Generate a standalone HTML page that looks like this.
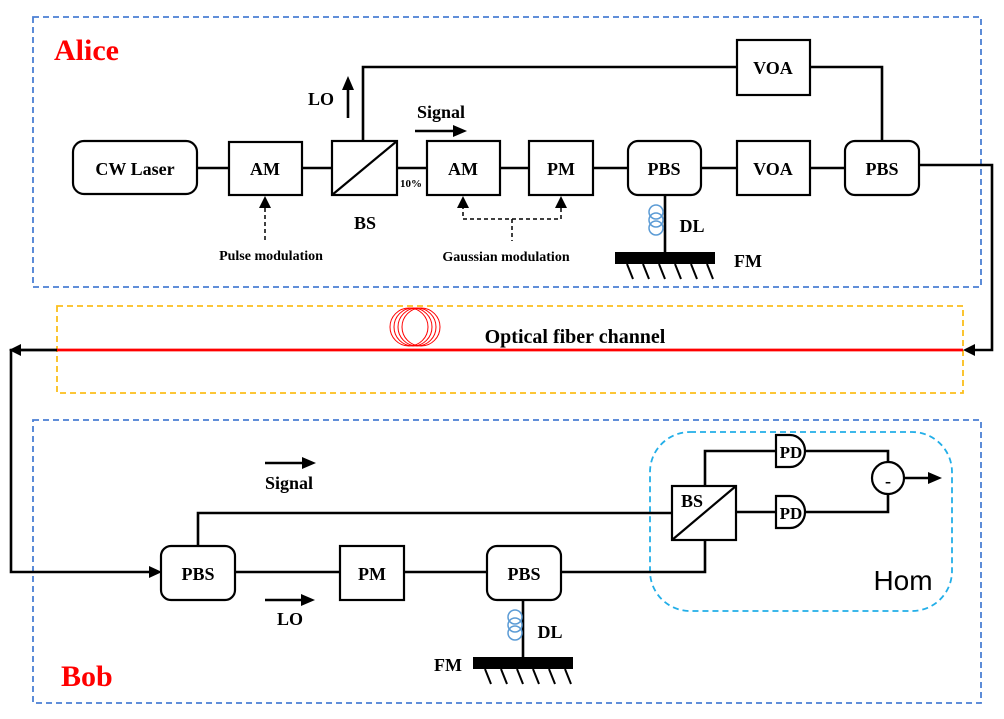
<!DOCTYPE html>
<html><head><meta charset="utf-8"><style>
html,body{margin:0;padding:0;background:#fff;}
svg{display:block;}
text{font-family:"Liberation Serif",serif;font-weight:bold;fill:#000;}
</style></head><body>
<svg width="1004" height="719" viewBox="0 0 1004 719" xmlns="http://www.w3.org/2000/svg">
<!-- frames -->
<rect x="33" y="17" width="948" height="270" fill="none" stroke="#4a7fd4" stroke-width="1.8" stroke-dasharray="6,4"/>
<rect x="33" y="420" width="948" height="283" fill="none" stroke="#4a7fd4" stroke-width="1.8" stroke-dasharray="6,4"/>
<rect x="57" y="306" width="906" height="87" fill="none" stroke="#fbbf1c" stroke-width="1.8" stroke-dasharray="6,4"/>
<rect x="650" y="432" width="302" height="179" rx="40" fill="none" stroke="#22aee8" stroke-width="1.8" stroke-dasharray="6,4"/>

<text x="54" y="60" font-size="30" style="fill:#f00">Alice</text>
<text x="61" y="686" font-size="30" style="fill:#f00">Bob</text>

<!-- red fiber -->
<line x1="57" y1="350" x2="963" y2="350" stroke="#f00" stroke-width="2.8"/>
<g fill="none" stroke="#f00" stroke-width="1">
<circle cx="409" cy="327" r="19"/><circle cx="413" cy="327" r="19"/><circle cx="417" cy="327" r="19"/><circle cx="421" cy="327" r="19"/>
</g>

<g stroke="#000" stroke-width="2.6" fill="none">
<line x1="197" y1="168" x2="229" y2="168"/>
<line x1="302" y1="168" x2="332" y2="168"/>
<line x1="397" y1="168" x2="427" y2="168"/>
<line x1="500" y1="168" x2="529" y2="168"/>
<line x1="593" y1="168" x2="628" y2="168"/>
<line x1="701" y1="168" x2="737" y2="168"/>
<line x1="810" y1="168" x2="845" y2="168"/>
<polyline points="363,141 363,67 737,67"/>
<polyline points="810,67 882,67 882,141"/>
<polyline points="919,165 992,165 992,350 972,350"/>
<line x1="665" y1="195" x2="665" y2="253"/>
<polyline points="57,350 11,350 11,572 150,572"/>
<line x1="235" y1="572" x2="340" y2="572"/>
<line x1="404" y1="572" x2="487" y2="572"/>
<polyline points="561,572 705,572 705,540"/>
<polyline points="198,546 198,513 672,513"/>
<polyline points="705,486 705,451 776,451"/>
<line x1="736" y1="512" x2="776" y2="512"/>
<polyline points="805,451 888,451 888,462"/>
<polyline points="805,512 888,512 888,494"/>
<line x1="523" y1="600" x2="523" y2="658"/>
<line x1="348" y1="118" x2="348" y2="88"/>
<line x1="415" y1="131" x2="455" y2="131"/>
<line x1="904" y1="478" x2="930" y2="478"/>
<line x1="265" y1="463" x2="304" y2="463"/>
<line x1="265" y1="600" x2="303" y2="600"/>
<line x1="57" y1="350" x2="20" y2="350"/>
</g>
<!-- arrowheads -->
<g fill="#000">
<path d="M963,350 L975,344 L975,356 z"/>
<path d="M9,350 L21,344 L21,356 z"/>
<path d="M162,572 L149,566 L149,578 z"/>
<path d="M348,76 L342,90 L354,90 z"/>
<path d="M467,131 L453,125 L453,137 z"/>
<path d="M942,478 L928,472 L928,484 z"/>
<path d="M316,463 L302,457 L302,469 z"/>
<path d="M315,600 L301,594 L301,606 z"/>
</g>
<!-- dashed modulation -->
<g stroke="#000" stroke-width="1.5" fill="none" stroke-dasharray="4,3">
<line x1="265" y1="240" x2="265" y2="205"/>
<polyline points="463,205 463,219 561,219 561,205"/>
<line x1="512" y1="219" x2="512" y2="241"/>
</g>
<path d="M259,208 L265,196 L271,208 z"/>
<path d="M457,208 L463,196 L469,208 z"/>
<path d="M555,208 L561,196 L567,208 z"/>
<!-- boxes -->
<g stroke="#000" stroke-width="2.2" fill="#fff">
<rect x="73" y="141" width="124" height="53" rx="11"/>
<rect x="229" y="142" width="73" height="53"/>
<rect x="332" y="141" width="65" height="54"/>
<rect x="427" y="141" width="73" height="54"/>
<rect x="529" y="141" width="64" height="54"/>
<rect x="628" y="141" width="73" height="54" rx="10"/>
<rect x="737" y="141" width="73" height="54"/>
<rect x="845" y="141" width="74" height="54" rx="10"/>
<rect x="737" y="40" width="73" height="55"/>
<rect x="161" y="546" width="74" height="54" rx="10"/>
<rect x="340" y="546" width="64" height="54"/>
<rect x="487" y="546" width="74" height="54" rx="10"/>
<rect x="672" y="486" width="64" height="54"/>
<path d="M776,435 H790 A15,16 0 0 1 790,467 H776 Z"/>
<path d="M776,496 H790 A15,16 0 0 1 790,528 H776 Z"/>
<circle cx="888" cy="478" r="16"/>
</g>
<line x1="332" y1="195" x2="397" y2="141" stroke="#000" stroke-width="2.2"/>
<line x1="672" y1="540" x2="736" y2="486" stroke="#000" stroke-width="2.2"/>
<g fill="none" stroke="#5b9bd5" stroke-width="1.5">
<circle cx="656" cy="212" r="7"/><circle cx="656" cy="220" r="7"/><circle cx="656" cy="228" r="7"/>
<circle cx="515" cy="617" r="7"/><circle cx="515" cy="625" r="7"/><circle cx="515" cy="633" r="7"/>
</g>
<rect x="615" y="252" width="100" height="12"/>
<g stroke="#000" stroke-width="2">
<line x1="627" y1="264" x2="633" y2="279"/><line x1="643" y1="264" x2="649" y2="279"/><line x1="659" y1="264" x2="665" y2="279"/>
<line x1="675" y1="264" x2="681" y2="279"/><line x1="691" y1="264" x2="697" y2="279"/><line x1="707" y1="264" x2="713" y2="279"/>
</g>
<rect x="473" y="657" width="100" height="12"/>
<g stroke="#000" stroke-width="2">
<line x1="485" y1="669" x2="491" y2="684"/><line x1="501" y1="669" x2="507" y2="684"/><line x1="517" y1="669" x2="523" y2="684"/>
<line x1="533" y1="669" x2="539" y2="684"/><line x1="549" y1="669" x2="555" y2="684"/><line x1="565" y1="669" x2="571" y2="684"/>
</g>
<!-- labels -->
<g font-size="18" text-anchor="middle">
<text x="135" y="175">CW  Laser</text>
<text x="265" y="175">AM</text>
<text x="463" y="175">AM</text>
<text x="561" y="175">PM</text>
<text x="664" y="175">PBS</text>
<text x="773" y="175">VOA</text>
<text x="882" y="175">PBS</text>
<text x="773" y="74">VOA</text>
<text x="198" y="580">PBS</text>
<text x="372" y="580">PM</text>
<text x="524" y="580">PBS</text>
<text x="365" y="229">BS</text>
<text x="321" y="105">LO</text>
<text x="441" y="118">Signal</text>
<text x="692" y="232">DL</text>
<text x="748" y="267">FM</text>
<text x="289" y="489">Signal</text>
<text x="290" y="625">LO</text>
<text x="550" y="638">DL</text>
<text x="448" y="671">FM</text>
<text x="692" y="507">BS</text>
<text x="791" y="458" font-size="17">PD</text>
<text x="791" y="519" font-size="17">PD</text>
<text x="888" y="487">-</text>
</g>
<text x="411" y="187" font-size="11" text-anchor="middle">10%</text>
<text x="271" y="260" font-size="14" text-anchor="middle">Pulse modulation</text>
<text x="506" y="261" font-size="14" text-anchor="middle">Gaussian modulation</text>
<text x="575" y="343" font-size="20" text-anchor="middle">Optical fiber channel</text>
<text x="903" y="590" font-size="28" text-anchor="middle" style="font-family:'Liberation Sans',sans-serif;font-weight:normal">Hom</text>
</svg>
</body></html>
